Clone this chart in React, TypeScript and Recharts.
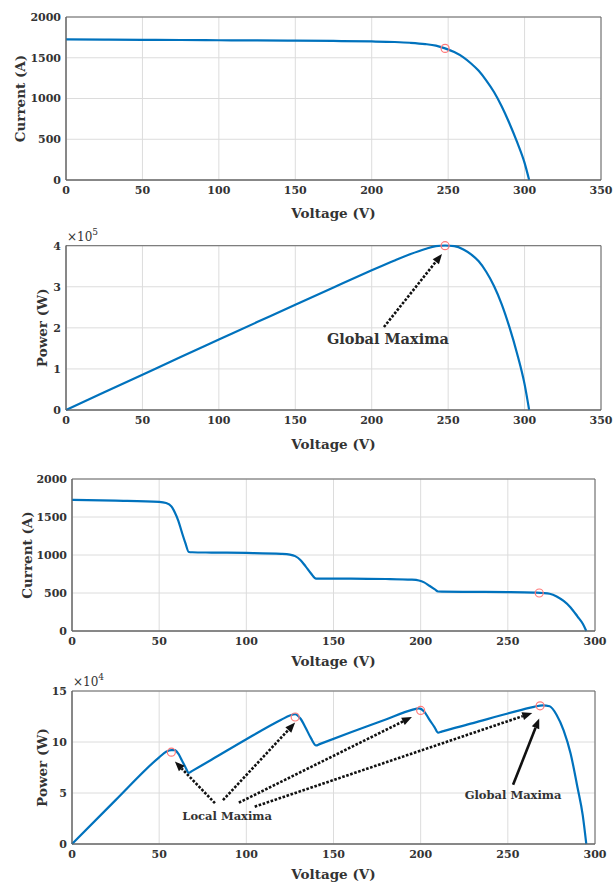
import {
  LineChart, Line, XAxis, YAxis, CartesianGrid,
  ReferenceDot, ReferenceLine, ReferenceArea,
} from "recharts";

const FONT = "'DejaVu Serif', serif";
const BLUE = "#0072BD";
const INK = "#333333";
const MARK = "#ff7a7a";

// uniform irradiance (V, A, W x1e5)
const uniformVoltage = [0, 25, 50, 75, 100, 125, 150, 175, 200, 215, 225, 235, 242, 248, 254, 260, 265, 270, 275, 280, 285, 290, 295, 300, 303];
const uniformCurrent = [1725, 1722, 1720, 1718, 1715, 1712, 1710, 1706, 1700, 1693, 1684, 1668, 1648, 1615, 1570, 1505, 1430, 1340, 1220, 1080, 905, 700, 470, 210, 0];
const uniformPower = [0, 0.43, 0.86, 1.29, 1.715, 2.14, 2.565, 2.985, 3.4, 3.64, 3.79, 3.92, 3.99, 4.005, 3.99, 3.91, 3.79, 3.62, 3.36, 3.02, 2.58, 2.03, 1.39, 0.63, 0];

// partial shading (V, A, W x1e4)
const shadedVoltage = [0, 25, 50, 54, 57, 59, 61, 63, 65, 67, 69, 80, 100, 120, 125, 128, 131, 134, 137, 140, 142, 160, 180, 195, 199, 202, 205, 208, 210, 212, 230, 250, 265, 270, 274, 278, 282, 286, 290, 293, 295];
const shadedCurrent = [1725, 1715, 1700, 1685, 1640, 1560, 1450, 1300, 1160, 1040, 1036, 1032, 1027, 1015, 1005, 985, 935, 850, 760, 690, 689, 688, 684, 675, 665, 640, 595, 550, 520, 518, 515, 512, 505, 500, 490, 455, 395, 310, 190, 95, 0];
const shadedPower = [0, 4.3, 8.5, 9.05, 9.2, 9.2, 8.85, 8.2, 7.55, 6.97, 7.17, 8.26, 10.27, 12.18, 12.6, 12.72, 12.3, 11.4, 10.4, 9.66, 9.79, 10.95, 12.2, 13.15, 13.3, 13.0, 12.2, 11.44, 10.92, 11.02, 11.85, 12.8, 13.45, 13.6, 13.5, 12.65, 11.14, 8.87, 5.51, 2.78, 0];

const uniformVTicks = [0, 50, 100, 150, 200, 250, 300, 350];
const shadedVTicks = [0, 50, 100, 150, 200, 250, 300];
const currentTicks = [0, 500, 1000, 1500, 2000];
const uniformPTicks = [0, 1, 2, 3, 4];
const shadedPTicks = [0, 5, 10, 15];

const uniformMpp = { v: 248, i: 1615, p: 4.0 };
const shadedMpp = { v: 268, i: 500 };
const shadedPeaks = [
  { v: 57, p: 9.0 },
  { v: 128, p: 12.45 },
  { v: 200, p: 13.1 },
  { v: 268.5, p: 13.55 },
];

// arrows: [fromV, fromP, toV, toP]
const uniformArrow = [208, 2.02, 246, 3.8];
const localArrows = [
  [82, 4.0, 59, 8.1],
  [86.6, 4.3, 128, 11.9],
  [95.7, 4.05, 195, 12.45],
  [104.8, 3.66, 264, 12.85],
];
const globalArrow = [253, 5.8, 268, 12.3];

const arrowShape = (dashed: boolean) => (props: any) => {
  const { x1, y1, x2, y2 } = props;
  const dx = x2 - x1;
  const dy = y2 - y1;
  const len = Math.hypot(dx, dy) || 1;
  const ux = dx / len;
  const uy = dy / len;
  const head = 10;
  const half = 4;
  const bx = x2 - ux * head;
  const by = y2 - uy * head;
  const pts = `${x2},${y2} ${bx - uy * half},${by + ux * half} ${bx + uy * half},${by - ux * half}`;
  return (
    <g>
      <line x1={x1} y1={y1} x2={bx} y2={by} stroke="#111" strokeWidth={2.6}
        strokeDasharray={dashed ? "2.6 1.6" : undefined} />
      <polygon points={pts} fill="#111" />
    </g>
  );
};

const textShape = (txt: string, size: number) => (props: any) => (
  <text x={props.cx} y={props.cy} textAnchor="middle" dominantBaseline="middle"
    fontFamily={FONT} fontWeight="bold" fontSize={size} fill={INK}>{txt}</text>
);

const exponentShape = (exp: string) => (props: any) => (
  <text x={props.cx + 1} y={props.cy - 5} fontFamily={FONT} fontSize={12} fill={INK}>
    ×10<tspan dy={-6} fontSize={9}>{exp}</tspan>
  </text>
);

const circleShape = (props: any) => (
  <circle cx={props.cx} cy={props.cy} r={4} fill="none" stroke={MARK} strokeWidth={1.2} />
);

interface PanelProps {
  top: number;
  height: number;
  plotLeft: number;
  right: number;
  marginTop: number;
  xHeight: number;
  xLabelOffset: number;
  yLabelX: number;
  xTicks: number[];
  yTicks: number[];
  yLabel: string;
  data: { v: number; y: number }[];
  children?: React.ReactNode;
}

function Panel(p: PanelProps) {
  const xMax = p.xTicks[p.xTicks.length - 1];
  const yMax = p.yTicks[p.yTicks.length - 1];
  const tickStyle = { fontFamily: FONT, fontWeight: "bold", fontSize: 11, fill: INK };
  return (
    <div style={{ position: "absolute", left: 0, top: p.top }}>
      <LineChart width={615} height={p.height} data={p.data}
        margin={{ top: p.marginTop, right: p.right, left: 0, bottom: 0 }}>
        <CartesianGrid stroke="#dcdcdc" />
        <XAxis type="number" dataKey="v" domain={[0, xMax]} ticks={p.xTicks}
          height={p.xHeight} tickLine={false} tickSize={5} tickMargin={1}
          axisLine={{ stroke: "#666" }} tick={tickStyle}
          label={{ value: "Voltage (V)", position: "insideBottom", offset: p.xLabelOffset,
            style: { fontFamily: FONT, fontWeight: "bold", fontSize: 13.5, fill: INK } }} />
        <YAxis type="number" domain={[0, yMax]} ticks={p.yTicks} width={p.plotLeft}
          tickLine={false} tickSize={4} tickMargin={1} interval={0}
          axisLine={{ stroke: "#666" }} tick={tickStyle}
          label={{ value: p.yLabel, angle: -90, position: "insideLeft", offset: p.yLabelX,
            style: { textAnchor: "middle", fontFamily: FONT, fontWeight: "bold", fontSize: 13.5, fill: INK } }} />
        <ReferenceArea x1={0} x2={xMax} y1={0} y2={yMax} fill="none" stroke="#666" strokeWidth={1} />
        <Line type="monotone" dataKey="y" stroke={BLUE} strokeWidth={2.2} dot={false}
          isAnimationActive={false} />
        {p.children}
      </LineChart>
    </div>
  );
}

export default function App() {
  const d1 = uniformVoltage.map((v, i) => ({ v, y: uniformCurrent[i] }));
  const d2 = uniformVoltage.map((v, i) => ({ v, y: uniformPower[i] }));
  const d3 = shadedVoltage.map((v, i) => ({ v, y: shadedCurrent[i] }));
  const d4 = shadedVoltage.map((v, i) => ({ v, y: shadedPower[i] }));

  return (
    <div style={{ position: "absolute", left: 0, top: 0, width: 615, height: 882, background: "#fff", overflow: "hidden" }}>
      <Panel top={0} height={228} plotLeft={66} right={14} marginTop={17} xHeight={48}
        xLabelOffset={10} yLabelX={20} xTicks={uniformVTicks} yTicks={currentTicks}
        yLabel="Current (A)" data={d1}>
        <ReferenceDot x={uniformMpp.v} y={uniformMpp.i} shape={circleShape} />
      </Panel>

      <Panel top={228} height={228} plotLeft={66} right={14} marginTop={17.5} xHeight={46}
        xLabelOffset={7} yLabelX={42} xTicks={uniformVTicks} yTicks={uniformPTicks}
        yLabel="Power (W)" data={d2}>
        <ReferenceDot x={0} y={4} shape={exponentShape("5")} />
        <ReferenceLine segment={[{ x: uniformArrow[0], y: uniformArrow[1] }, { x: uniformArrow[2], y: uniformArrow[3] }]}
          shape={arrowShape(true)} />
        <ReferenceDot x={210.6} y={1.7} shape={textShape("Global Maxima", 14.5)} />
        <ReferenceDot x={uniformMpp.v} y={uniformMpp.p} shape={circleShape} />
      </Panel>

      <Panel top={456} height={217} plotLeft={72} right={20} marginTop={23} xHeight={42}
        xLabelOffset={7.5} yLabelX={27} xTicks={shadedVTicks} yTicks={currentTicks}
        yLabel="Current (A)" data={d3}>
        <ReferenceDot x={shadedMpp.v} y={shadedMpp.i} shape={circleShape} />
      </Panel>

      <Panel top={668} height={214} plotLeft={72} right={20} marginTop={23} xHeight={38}
        xLabelOffset={3.5} yLabelX={42} xTicks={shadedVTicks} yTicks={shadedPTicks}
        yLabel="Power (W)" data={d4}>
        <ReferenceDot x={0} y={15} shape={exponentShape("4")} />
        {localArrows.map((a, i) => (
          <ReferenceLine key={i} segment={[{ x: a[0], y: a[1] }, { x: a[2], y: a[3] }]}
            shape={arrowShape(true)} />
        ))}
        <ReferenceLine segment={[{ x: globalArrow[0], y: globalArrow[1] }, { x: globalArrow[2], y: globalArrow[3] }]}
          shape={arrowShape(false)} />
        <ReferenceDot x={89} y={2.67} shape={textShape("Local Maxima", 11.5)} />
        <ReferenceDot x={253} y={4.7} shape={textShape("Global Maxima", 11.5)} />
        {shadedPeaks.map((m, i) => (
          <ReferenceDot key={i} x={m.v} y={m.p} shape={circleShape} />
        ))}
      </Panel>
    </div>
  );
}
